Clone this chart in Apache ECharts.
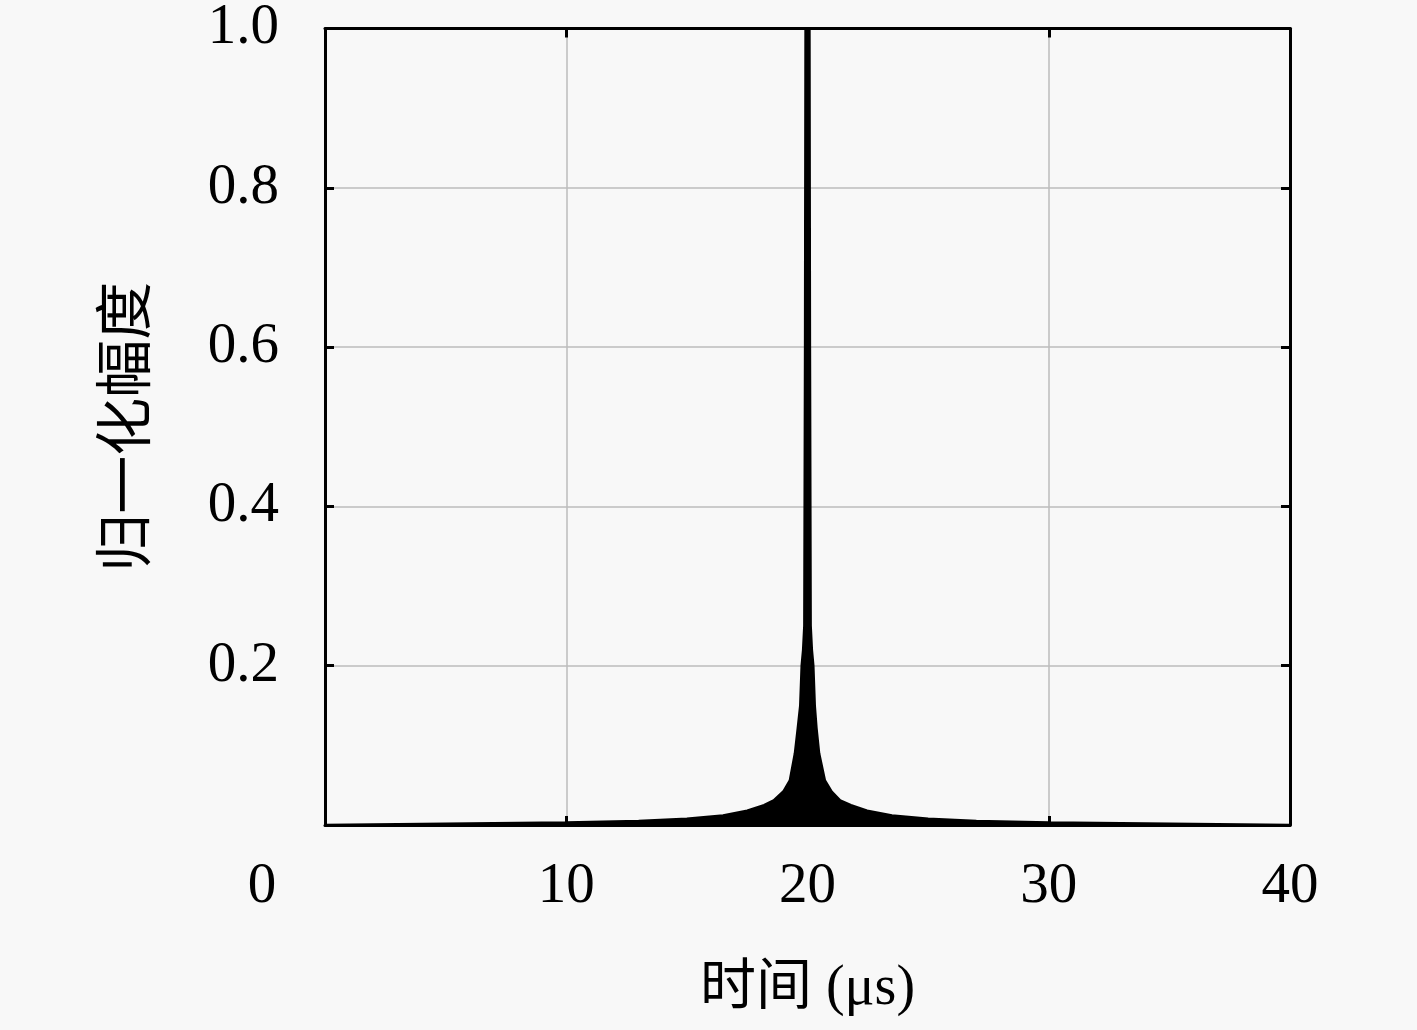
<!DOCTYPE html>
<html><head><meta charset="utf-8">
<script src="https://cdn.jsdelivr.net/npm/echarts@6/dist/echarts.min.js"></script>
<style>html,body{margin:0;padding:0;background:#f8f8f8;}#c{width:1417px;height:1030px;}</style>
</head><body><div id="c"></div>
<script>
// Tick values
const xTicks = [0, 10, 20, 30, 40];
const yTicks = [0, 0.2, 0.4, 0.6, 0.8, 1.0];
// Time (µs) and normalized amplitude envelope
const timeUs = [0, 6, 10, 13, 15, 16.5, 17.5, 18.2, 18.6, 19.0, 19.27, 19.48, 19.6, 19.7, 19.76, 19.82, 19.87, 19.9, 19.92, 20.08, 20.1, 20.13, 20.18, 20.24, 20.3, 20.37, 20.48, 20.72, 21.0, 21.35, 21.8, 22.47, 23.5, 25, 27, 30, 34, 40];
const amplitude = [0, 0.002, 0.003, 0.005, 0.008, 0.012, 0.018, 0.025, 0.031, 0.042, 0.056, 0.09, 0.122, 0.15, 0.2, 0.22, 0.25, 0.6, 1.0, 1.0, 0.6, 0.25, 0.22, 0.2, 0.15, 0.122, 0.09, 0.056, 0.042, 0.031, 0.025, 0.018, 0.012, 0.008, 0.005, 0.003, 0.002, 0];

const serif = '"Liberation Serif", "Noto Sans CJK SC", serif';
const chart = echarts.init(document.getElementById('c'));
const axisLine = {show: true, onZero: false, lineStyle: {color: '#000', width: 3}};
const tick = {show: true, inside: true, length: 9, lineStyle: {color: '#000', width: 3}};
const grid = {show: true, lineStyle: {color: '#bdbdbd', width: 1.5}};
chart.setOption({
  backgroundColor: '#f8f8f8',
  animation: false,
  grid: {left: 325, top: 22, width: 965, height: 803, containLabel: false},
  xAxis: [{
    type: 'value', min: xTicks[0], max: xTicks[xTicks.length - 1], interval: 10,
    axisLine: axisLine, axisTick: tick, splitLine: grid,
    axisLabel: {
      margin: 34, color: '#000', fontFamily: serif, fontSize: 57,
      formatter: v => v === 0 ? '{z|0}' : String(v),
      rich: {z: {fontFamily: serif, fontSize: 57, color: '#000', padding: [0, 126, 0, 0]}}
    },
    name: '时间 (μs)', nameLocation: 'middle', nameGap: 136,
    nameTextStyle: {fontFamily: serif, fontSize: 56, color: '#000'}
  }, {
    type: 'value', position: 'top', min: 0, max: 40, interval: 10,
    axisLine: axisLine, axisTick: tick, axisLabel: {show: false}, splitLine: {show: false}
  }],
  yAxis: [{
    type: 'value', min: yTicks[0], max: yTicks[yTicks.length - 1], interval: 0.2,
    axisLine: axisLine, axisTick: tick, splitLine: grid,
    axisLabel: {
      margin: 46, color: '#000', fontFamily: serif, fontSize: 57,
      formatter: v => v === 0 ? '' : v.toFixed(1)
    },
    name: '归一化幅度', nameLocation: 'middle', nameGap: 166, nameRotate: 90,
    nameTextStyle: {fontFamily: serif, fontSize: 58, color: '#000'}
  }, {
    type: 'value', position: 'right', min: 0, max: 1, interval: 0.2,
    axisLine: axisLine, axisTick: tick, axisLabel: {show: false}, splitLine: {show: false}
  }],
  series: [{
    type: 'line', showSymbol: false,
    data: timeUs.map((t, i) => [t, amplitude[i]]),
    lineStyle: {color: '#000', width: 2.5},
    areaStyle: {color: '#000', opacity: 1},
    z: 3
  }]
});
</script></body></html>
